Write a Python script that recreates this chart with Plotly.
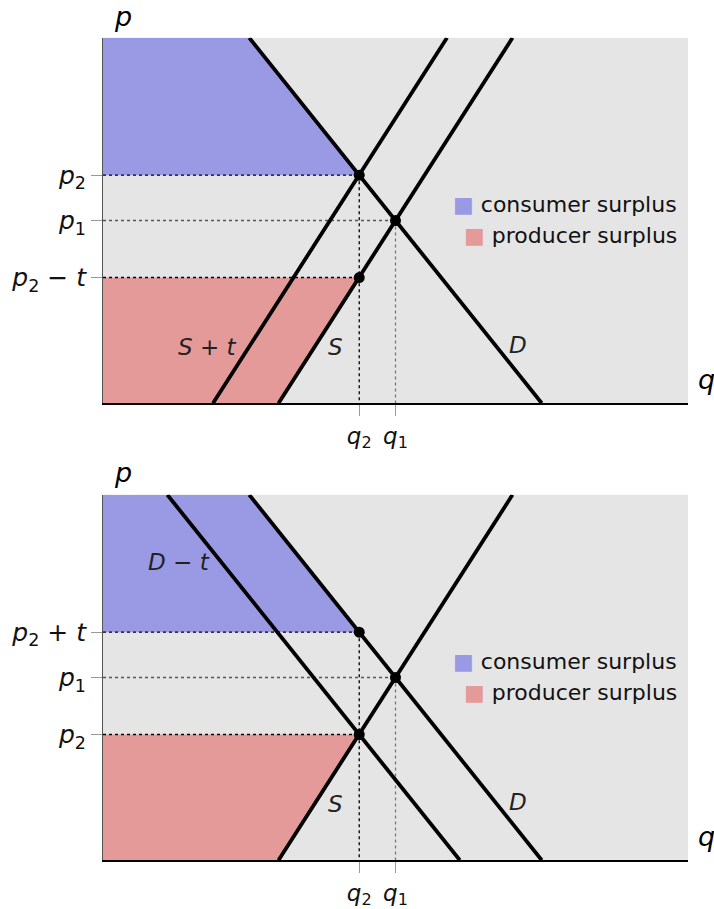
import plotly.graph_objects as go

# key quantities / prices (same for both panels)
q1, p1 = 5.0, 5.0
q2 = 4.38
p_hi = 6.24   # p2 (top) / p2 + t (bottom)
p_lo = 3.44   # p2 - t (top) / p2 (bottom)

# line endpoints (q at p=10 and at p=0)
demand_q = [2.5, 7.5]
supply_q = [7.0, 3.0]
supply_tax_q = [5.88, 1.88]     # S + t
demand_tax_q = [1.1, 6.1]       # D - t
line_p = [10, 0]

top_ticks = ["<i>p</i><sub>2</sub>", "<i>p</i><sub>1</sub>", "<i>p</i><sub>2</sub> − <i>t</i>"]
bot_ticks = ["<i>p</i><sub>2</sub> + <i>t</i>", "<i>p</i><sub>1</sub>", "<i>p</i><sub>2</sub>"]
q_ticks = ["<i>q</i><sub>2</sub>", "<i>q</i><sub>1</sub>"]

blue = "#9a9ae4"
red = "#e59a9a"
W, H = 714, 909

fig = go.Figure()


def add_panel(fig, xa, ya, lines, labels):
    # consumer surplus
    fig.add_trace(go.Scatter(x=[0, 0, demand_q[0], q2], y=[p_hi, 10, 10, p_hi], fill="toself",
                             fillcolor=blue, line=dict(width=0), mode="lines", xaxis=xa, yaxis=ya,
                             hoverinfo="skip"))
    # producer surplus
    fig.add_trace(go.Scatter(x=[0, supply_q[1], q2, 0], y=[0, 0, p_lo, p_lo], fill="toself",
                             fillcolor=red, line=dict(width=0), mode="lines", xaxis=xa, yaxis=ya,
                             hoverinfo="skip"))
    # dotted guides
    for xs, ys, c in [([0, q2], [p_hi, p_hi], "black"), ([0, q2], [p_lo, p_lo], "black"),
                      ([0, q1], [p1, p1], "#555"), ([q2, q2], [p_hi, 0], "black"),
                      ([q1, q1], [p1, 0], "#777")]:
        fig.add_trace(go.Scatter(x=xs, y=ys, mode="lines", line=dict(color=c, width=1.3, dash="dot"),
                                 xaxis=xa, yaxis=ya, hoverinfo="skip"))
    for qs in lines:
        fig.add_trace(go.Scatter(x=qs, y=line_p, mode="lines", line=dict(color="black", width=3.8),
                                 xaxis=xa, yaxis=ya, hoverinfo="skip"))
    fig.add_trace(go.Scatter(x=[q2, q1, q2], y=[p_hi, p1, p_lo], mode="markers",
                             marker=dict(color="black", size=11), xaxis=xa, yaxis=ya, hoverinfo="skip"))
    for txt, x, y in labels:
        fig.add_annotation(text=txt, x=x, y=y, xref=xa, yref=ya, showarrow=False,
                           font=dict(size=23, color="#222"))


add_panel(fig, "x", "y", [demand_q, supply_q, supply_tax_q],
          [("<i>S</i> + <i>t</i>", 1.79, 1.55), ("<i>S</i>", 3.98, 1.55), ("<i>D</i>", 7.09, 1.58)])
add_panel(fig, "x2", "y2", [demand_q, supply_q, demand_tax_q],
          [("<i>D</i> − <i>t</i>", 1.3, 8.17), ("<i>S</i>", 3.98, 1.53), ("<i>D</i>", 7.09, 1.58)])

xdom = [103 / W, 688 / W]
xax = dict(range=[0, 10], showgrid=False, zeroline=False, showline=True, linecolor="black", linewidth=1.5,
           ticks="outside", ticklen=11, tickcolor="#999", tickwidth=1, tickvals=[q2, q1], ticktext=q_ticks,
           tickfont=dict(size=23, color="#111"), domain=xdom, fixedrange=True)
yax = dict(range=[0, 10], showgrid=False, zeroline=False, showline=True, linecolor="#555", linewidth=1,
           ticks="outside", ticklen=11, tickcolor="#999", tickwidth=1, tickvals=[p_hi, p1, p_lo],
           tickfont=dict(size=25, color="#111"), fixedrange=True)

fig.update_layout(
    width=W, height=H, margin=dict(l=0, r=0, t=0, b=0),
    paper_bgcolor="white", plot_bgcolor="#e5e5e5", showlegend=False,
    font=dict(family="DejaVu Sans", color="black"),
    xaxis=dict(xax, anchor="y"),
    yaxis=dict(yax, ticktext=top_ticks, domain=[1 - 405 / H, 1 - 38 / H], anchor="x"),
    xaxis2=dict(xax, anchor="y2"),
    yaxis2=dict(yax, ticktext=bot_ticks, domain=[1 - 864 / H, 1 - 497 / H], anchor="x2"),
)

# axis names and legend-like notes
for y_px in [17, 475]:
    fig.add_annotation(text="<i>p</i>", x=123 / W, y=1 - y_px / H, xref="paper", yref="paper",
                       xanchor="center", yanchor="middle", showarrow=False, font=dict(size=27))
for y_px in [381, 840]:
    fig.add_annotation(text="<i>q</i>", x=706 / W, y=1 - y_px / H, xref="paper", yref="paper",
                       xanchor="center", yanchor="middle", showarrow=False, font=dict(size=27))
for off in [0, 459]:
    for txt, c, y_px in [("consumer surplus", blue, 205), ("producer surplus", red, 237)]:
        fig.add_annotation(text=f"<span style='color:{c}'>■</span> {txt}", x=679 / W, y=1 - (y_px + off) / H,
                           xref="paper", yref="paper", xanchor="right", yanchor="middle", showarrow=False,
                           font=dict(size=22, color="#111"))

fig.write_html("out.html", config={"displayModeBar": False},
               post_script="document.body.style.margin='0';")
